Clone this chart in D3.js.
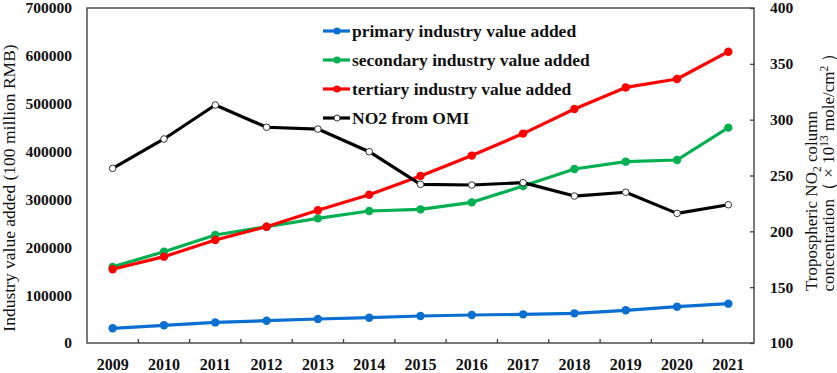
<!DOCTYPE html>
<html>
<head>
<meta charset="utf-8">
<script src="https://cdn.jsdelivr.net/npm/d3@7"></script>
<style>
  body { margin: 0; background: #fff; }
  svg text { font-family: "Liberation Serif", "DejaVu Serif", serif; fill: #111; }
</style>
</head>
<body>
<script>
var years = [2009, 2010, 2011, 2012, 2013, 2014, 2015, 2016, 2017, 2018, 2019, 2020, 2021];
var primary = [30700, 37000, 43000, 46600, 50100, 52900, 56400, 58500, 59900, 62000, 68300, 75900, 82200];
var secondary = [159000, 190800, 225700, 243000, 260400, 275800, 279300, 293900, 328000, 363600, 378900, 382400, 450000];
var tertiary = [154000, 180400, 215200, 243000, 277300, 309700, 349000, 391600, 437600, 489000, 534000, 551600, 608700];
var no2 = [256.4, 282.7, 313.1, 293.2, 291.6, 271.3, 242.1, 241.5, 243.6, 231.6, 235.0, 216.1, 223.8];
var leftTicks = [0, 100000, 200000, 300000, 400000, 500000, 600000, 700000];
var rightTicks = [100, 150, 200, 250, 300, 350, 400];

var width = 837, height = 373;
var plotL = 87, plotR = 754, plotT = 8, plotB = 343;

var svg = d3.select("body").append("svg")
  .attr("width", width)
  .attr("height", height);

var x = d3.scaleBand().domain(years).range([plotL, plotR]).padding(0);
var yL = d3.scaleLinear().domain([0, 700000]).range([plotB, plotT]);
var yR = d3.scaleLinear().domain([100, 400]).range([plotB, plotT]);

// frame
svg.append("rect")
  .attr("x", plotL).attr("y", plotT)
  .attr("width", plotR - plotL).attr("height", plotB - plotT)
  .attr("fill", "none").attr("stroke", "#404040").attr("stroke-width", 1.4);

var styleTicks = function(g){
  g.selectAll("text").attr("font-size", 15.5).attr("font-weight", "bold")
    .attr("font-family", "Liberation Serif").attr("fill", "#111");
};

// left axis (labels only)
var gL = svg.append("g").attr("transform", "translate(" + plotL + ",0)")
  .call(d3.axisLeft(yL).tickValues(leftTicks).tickSize(0).tickPadding(15).tickFormat(d3.format("d")));
gL.select(".domain").remove();
styleTicks(gL);

// right axis, ticks pointing inward
var gR = svg.append("g").attr("transform", "translate(" + plotR + ",0)")
  .call(d3.axisRight(yR).tickValues(rightTicks).tickSize(-4).tickPadding(16));
gR.select(".domain").remove();
gR.selectAll("line").attr("stroke", "#404040").attr("stroke-width", 1.3);
styleTicks(gR);

// bottom axis labels
var gB = svg.append("g").attr("transform", "translate(0," + plotB + ")")
  .call(d3.axisBottom(x).tickSize(0).tickPadding(16));
gB.select(".domain").remove();
styleTicks(gB);
gB.selectAll("text").attr("font-size", 16);

// bottom ticks at band boundaries, pointing up
svg.append("g").selectAll("line")
  .data(years.slice(1))
  .enter().append("line")
  .attr("x1", function(d){ return x(d); })
  .attr("x2", function(d){ return x(d); })
  .attr("y1", plotB).attr("y2", plotB - 4)
  .attr("stroke", "#404040").attr("stroke-width", 1.3);

// axis titles
svg.append("text")
  .attr("transform", "translate(15,188) rotate(-90)")
  .attr("text-anchor", "middle")
  .attr("font-size", 17.5)
  .text("Industry value added (100 million RMB)");

var t1 = svg.append("text")
  .attr("transform", "translate(817,201) rotate(-90)")
  .attr("text-anchor", "middle")
  .attr("font-size", 17);
t1.append("tspan").text("Tropospheric NO");
t1.append("tspan").attr("font-size", 11.5).attr("dy", 4).text("2");
t1.append("tspan").attr("dy", -4).text(" column");

var t2 = svg.append("text")
  .attr("transform", "translate(834,168) rotate(-90)")
  .attr("text-anchor", "middle")
  .attr("font-size", 17);
t2.append("tspan").text("concentration\uFF08 \u00D7 10");
t2.append("tspan").attr("font-size", 11.5).attr("dy", -6).text("13");
t2.append("tspan").attr("dy", 6).text(" mole/cm");
t2.append("tspan").attr("font-size", 11.5).attr("dy", -6).text("2");
t2.append("tspan").attr("dy", 6).text(" \uFF09");

// series
var cx = function(i){ return x(years[i]) + x.bandwidth() / 2; };

var series = [
  {name: "primary industry value added", values: primary, color: "#0a6fd0", scale: yL, filled: true},
  {name: "secondary industry value added", values: secondary, color: "#00b050", scale: yL, filled: true},
  {name: "tertiary industry value added", values: tertiary, color: "#ff0000", scale: yL, filled: true},
  {name: "NO2 from OMI", values: no2, color: "#000000", scale: yR, filled: false}
];

series.forEach(function(s){
  var line = d3.line()
    .x(function(d, i){ return cx(i); })
    .y(function(d){ return s.scale(d); });
  svg.append("path")
    .datum(s.values)
    .attr("d", line)
    .attr("fill", "none")
    .attr("stroke", s.color)
    .attr("stroke-width", 3.2)
    .attr("stroke-linejoin", "round");
  svg.append("g").selectAll("circle")
    .data(s.values)
    .enter().append("circle")
    .attr("cx", function(d, i){ return cx(i); })
    .attr("cy", function(d){ return s.scale(d); })
    .attr("r", s.filled ? 4.2 : 3.3)
    .attr("fill", s.filled ? s.color : "#fff")
    .attr("stroke", s.filled ? "none" : "#333")
    .attr("stroke-width", 1);
});

// legend
var lg = svg.append("g").selectAll("g")
  .data(series)
  .enter().append("g")
  .attr("transform", function(d, i){ return "translate(323," + (31 + i * 29) + ")"; });
lg.append("line")
  .attr("x1", 0).attr("x2", 27)
  .attr("stroke", function(d){ return d.color; })
  .attr("stroke-width", 3.2);
lg.append("circle")
  .attr("cx", 14).attr("r", function(d){ return d.filled ? 3.6 : 3; })
  .attr("fill", function(d){ return d.filled ? d.color : "#fff"; })
  .attr("stroke", function(d){ return d.filled ? "none" : "#333"; });
lg.append("text")
  .attr("x", 29).attr("y", 6)
  .attr("font-size", 17.5)
  .attr("font-weight", "bold")
  .text(function(d){ return d.name; });
</script>
</body>
</html>
